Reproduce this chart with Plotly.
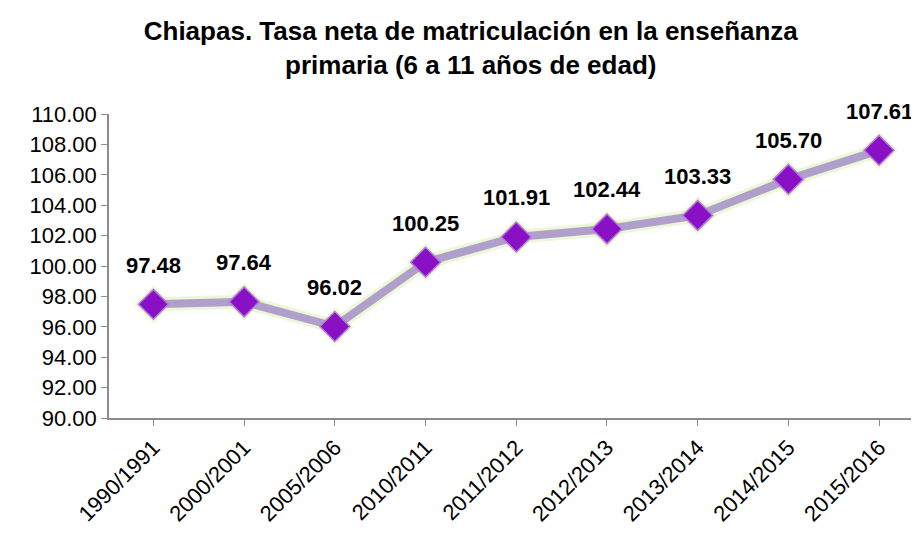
import plotly.graph_objects as go

categories = ["1990/1991", "2000/2001", "2005/2006", "2010/2011", "2011/2012",
              "2012/2013", "2013/2014", "2014/2015", "2015/2016"]
values = [97.48, 97.64, 96.02, 100.25, 101.91, 102.44, 103.33, 105.70, 107.61]
y_ticks = [90, 92, 94, 96, 98, 100, 102, 104, 106, 108, 110]
title_text = "Chiapas. Tasa neta de matriculación en la enseñanza<br>primaria (6 a 11 años de edad)"

FONT = "Liberation Sans, Arial"
x_idx = list(range(len(categories)))

fig = go.Figure()
# soft glow
fig.add_trace(go.Scatter(x=x_idx, y=values, mode="lines+markers",
                         line=dict(color="rgba(215,240,175,0.5)", width=14),
                         marker=dict(symbol="diamond", size=29, color="rgba(215,240,175,0.5)"),
                         hoverinfo="skip", showlegend=False, cliponaxis=False))
fig.add_trace(go.Scatter(x=x_idx, y=values, mode="lines+markers",
                         line=dict(color="#B09FCA", width=8),
                         marker=dict(symbol="diamond", size=23, color="#8A10C6",
                                     line=dict(color="#B37ADB", width=1.5)),
                         showlegend=False, cliponaxis=False))

for i, v in enumerate(values):
    fig.add_annotation(x=i, y=v, text=f"<b>{v:.2f}</b>", showarrow=False,
                       yshift=39, font=dict(family=FONT, size=22, color="black"))

fig.update_layout(
    width=911, height=531,
    paper_bgcolor="white", plot_bgcolor="white",
    margin=dict(l=101, r=0, t=106, b=121, autoexpand=False),
    title=dict(text=f"<b>{title_text}</b>", x=0.508, xanchor="center", y=0.94, yanchor="top",
               font=dict(family=FONT, size=26, color="black")),
    xaxis=dict(range=[-0.49, 8.44], tickmode="array", tickvals=x_idx, ticktext=categories,
               tickangle=-45, showgrid=False, showline=True, linecolor="#8C8C8C", linewidth=2,
               ticks="outside", ticklen=6, tickcolor="#8C8C8C", automargin=False,
               tickfont=dict(family=FONT, size=22, color="black"), zeroline=False),
    yaxis=dict(range=[90, 110], tickvals=y_ticks, ticktext=[f"{t:.2f}" for t in y_ticks],
               showgrid=False, showline=True, linecolor="#8C8C8C", linewidth=1.5,
               ticks="outside", ticklen=6, tickcolor="#8C8C8C", automargin=False,
               tickfont=dict(family=FONT, size=22, color="black"), zeroline=False),
)
fig.write_html("out.html")
